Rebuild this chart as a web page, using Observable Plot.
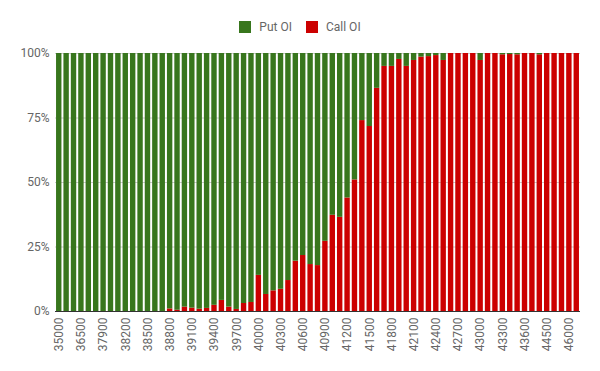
<!DOCTYPE html>
<html>
<head>
<meta charset="utf-8">
<script src="https://cdn.jsdelivr.net/npm/d3@7"></script>
<script src="https://cdn.jsdelivr.net/npm/@observablehq/plot@0.6"></script>
<style>
  html, body { margin: 0; padding: 0; background: #fff; }
  body { width: 600px; height: 371px; overflow: hidden; font-family: Roboto, "Noto Sans", sans-serif; }
  #legend { height: 40px; display: flex; justify-content: center; align-items: center; font-size: 12px; color: #666; padding-top: 14px; box-sizing: border-box; padding-left: 0px; }
  .item { display: flex; align-items: center; margin: 0 7px; }
  .sw { width: 12px; height: 12px; margin-right: 8px; }
</style>
</head>
<body>
<div id="legend"></div>
<div id="chart"></div>
<script>
const strikes = [
  "35000","35500","36000","36500","37000","37500","37900","38000","38100","38200",
  "38300","38400","38500","38600","38700","38800","38900","39000","39100","39200",
  "39300","39400","39500","39600","39700","39800","39900","40000","40100","40200",
  "40300","40400","40500","40600","40700","40800","40900","41000","41100","41200",
  "41300","41400","41500","41600","41700","41800","41900","42000","42100","42200",
  "42300","42400","42500","42600","42700","42800","42900","43000","43100","43200",
  "43300","43400","43500","43600","43700","44000","44500","45000","45500","46000",
  "47000"
];
// Call OI share (%) per strike; Put OI share is the remainder
const callShare = [
  0, 0, 0, 0, 0, 0, 0, 0, 0, 0,
  0, 0, 0, 0, 0, 1, 0.5, 1.7, 1.3, 0.9,
  1.2, 2.4, 4.3, 1.7, 0.8, 3.1, 3.5, 14, 6.6, 8,
  8.6, 12, 19.5, 21.7, 18.2, 17.8, 27.2, 37.3, 36.5, 44,
  51, 74, 71.7, 86.5, 95, 95, 97.7, 95, 97.3, 98.6,
  98.8, 99.2, 97.3, 100, 100, 100, 100, 97.3, 100, 100,
  99.5, 99.6, 99.5, 100, 100, 99.5, 100, 100, 100, 100,
  100
];
const seriesNames = ["Put OI", "Call OI"];
const seriesColors = ["#38761d", "#cc0000"];
const yTicks = [0, 0.25, 0.5, 0.75, 1];

const rows = [];
strikes.forEach((s, i) => {
  rows.push({strike: s, series: "Call OI", value: callShare[i] / 100});
  rows.push({strike: s, series: "Put OI", value: 1 - callShare[i] / 100});
});

// legend
const legend = document.getElementById("legend");
seriesNames.forEach((n, i) => {
  const it = document.createElement("div");
  it.className = "item";
  const sw = document.createElement("div");
  sw.className = "sw";
  sw.style.background = seriesColors[i];
  const t = document.createElement("span");
  t.textContent = n;
  it.appendChild(sw); it.appendChild(t);
  legend.appendChild(it);
});

const chart = Plot.plot({
  width: 600,
  height: 331,
  marginTop: 13,
  marginBottom: 60,
  marginLeft: 55,
  marginRight: 20,
  style: {fontFamily: "Roboto, sans-serif", fontSize: "12px", color: "#666", background: "#fff"},
  x: {domain: strikes, paddingInner: 0.27, paddingOuter: 0.14, round: false, label: null},
  y: {domain: [0, 1], label: null},
  color: {domain: seriesNames, range: seriesColors},
  marks: [
    Plot.gridY(yTicks, {stroke: "#cccccc", strokeOpacity: 1}),
    Plot.barY(rows, {x: "strike", y: "value", fill: "series", order: ["Call OI", "Put OI"]}),
    Plot.ruleY([0], {stroke: "#333"}),
    Plot.axisY(yTicks, {tickFormat: d3.format(".0%"), tickSize: 0, tickPadding: 6, fill: "#666", fontSize: 12}),
    Plot.axisX(strikes.filter((d, i) => i % 3 === 0), {tickRotate: -90, tickSize: 0, tickPadding: 6, fill: "#666", fontSize: 12})
  ]
});
document.getElementById("chart").appendChild(chart);
</script>
</body>
</html>
